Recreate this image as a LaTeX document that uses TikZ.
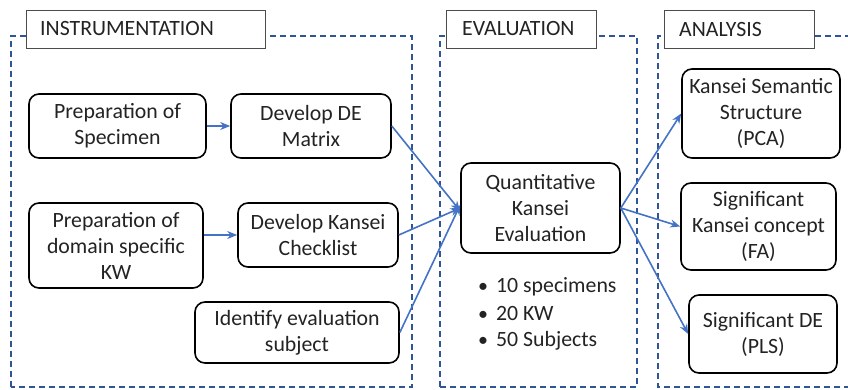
\documentclass[tikz,border=0pt]{standalone}
\usepackage{fontspec}
\setmainfont{Carlito}
\usetikzlibrary{arrows.meta}
\definecolor{dashblue}{RGB}{47,85,151}
\definecolor{arrblue}{RGB}{68,114,196}
\definecolor{txt}{RGB}{35,35,35}
\begin{document}
\begin{tikzpicture}[x=1pt,y=-1pt,
  every node/.style={font=\fontsize{21.8}{26}\selectfont, text=txt},
  rbox/.style={draw=black, line width=1.6pt, rounded corners=10pt, align=center, inner sep=0pt, fill=white},
  tbox/.style={draw=black!70, line width=1pt, fill=white, anchor=north west, inner sep=0pt},
  group/.style={draw=dashblue, line width=1.5pt, dash pattern=on 6pt off 4pt},
  flow/.style={draw=arrblue, line width=1.6pt, -{Stealth[length=10pt,width=8pt]}},
  bul/.style={anchor=west, inner sep=0pt}]
\useasboundingbox (0,0) rectangle (848,389);
% dashed groups
\draw[group] (11,387) -- (11,36) -- (412,36) -- (412,387) -- cycle;
\draw[group] (440,387) -- (440,36) -- (637,36) -- (637,387) -- cycle;
\draw[group] (860,387) -- (658,387) -- (658,36) -- (860,36);
% title boxes
\node[tbox, minimum width=239pt, minimum height=38pt] (t1) at (26,10) {};
\node[anchor=west, inner sep=0pt] (t1l) at (40,29) {INSTRUMENTATION};
\node[tbox, minimum width=150pt, minimum height=38pt] (t2) at (446,10) {};
\node[anchor=west, inner sep=0pt] (t2l) at (462,29) {EVALUATION};
\node[tbox, minimum width=150pt, minimum height=38pt] (t3) at (664,10) {};
\node[anchor=west, inner sep=0pt] (t3l) at (679,29) {ANALYSIS};
% process boxes
\node[rbox, minimum width=177pt, minimum height=64pt] (ps) at (117.5,126) {Preparation of\\Specimen};
\node[rbox, minimum width=160pt, minimum height=64pt] (de) at (311,126) {Develop DE\\Matrix};
\node[rbox, minimum width=174pt, minimum height=85pt] (kw) at (116,245.5) {Preparation of\\domain specific\\KW};
\node[rbox, minimum width=160pt, minimum height=64pt] (kc) at (318,235) {Develop Kansei\\Checklist};
\node[rbox, minimum width=204pt, minimum height=61pt] (id) at (297,332.5) {Identify evaluation\\subject};
\node[rbox, minimum width=159pt, minimum height=90pt] (q) at (540.5,208) {Quantitative\\Kansei\\Evaluation};
\node[rbox, minimum width=158pt, minimum height=89pt] (pca) at (761,113.5) {Kansei Semantic\\Structure\\(PCA)};
\node[rbox, minimum width=155pt, minimum height=87pt] (fa) at (758.5,226.5) {Significant\\Kansei concept\\(FA)};
\node[rbox, minimum width=148pt, minimum height=78pt] (pls) at (763,334) {Significant DE\\(PLS)};
% bullets
\node[bul] (b1) at (478,287) {{\fontsize{20}{20}\selectfont •}\hspace{8pt}10 specimens};
\node[bul] (b2) at (478,313) {{\fontsize{20}{20}\selectfont •}\hspace{8pt}20 KW};
\node[bul] (b3) at (478,341) {{\fontsize{20}{20}\selectfont •}\hspace{8pt}50 Subjects};
% connectors
\draw[flow] (ps.east) -- (de.west);
\draw[flow] (kw.east |- kc.west) -- (kc.west);
\draw[flow] (de.east) -- ([yshift=-3pt]q.west);
\draw[flow] (kc.east) -- (q.west);
\draw[flow] (id.east) -- ([yshift=3pt]q.west);
\draw[flow] (q.east) -- (pca.west);
\draw[flow] (q.east) -- (fa.west);
\draw[flow] (q.east) -- (pls.west);
\end{tikzpicture}
\end{document}
